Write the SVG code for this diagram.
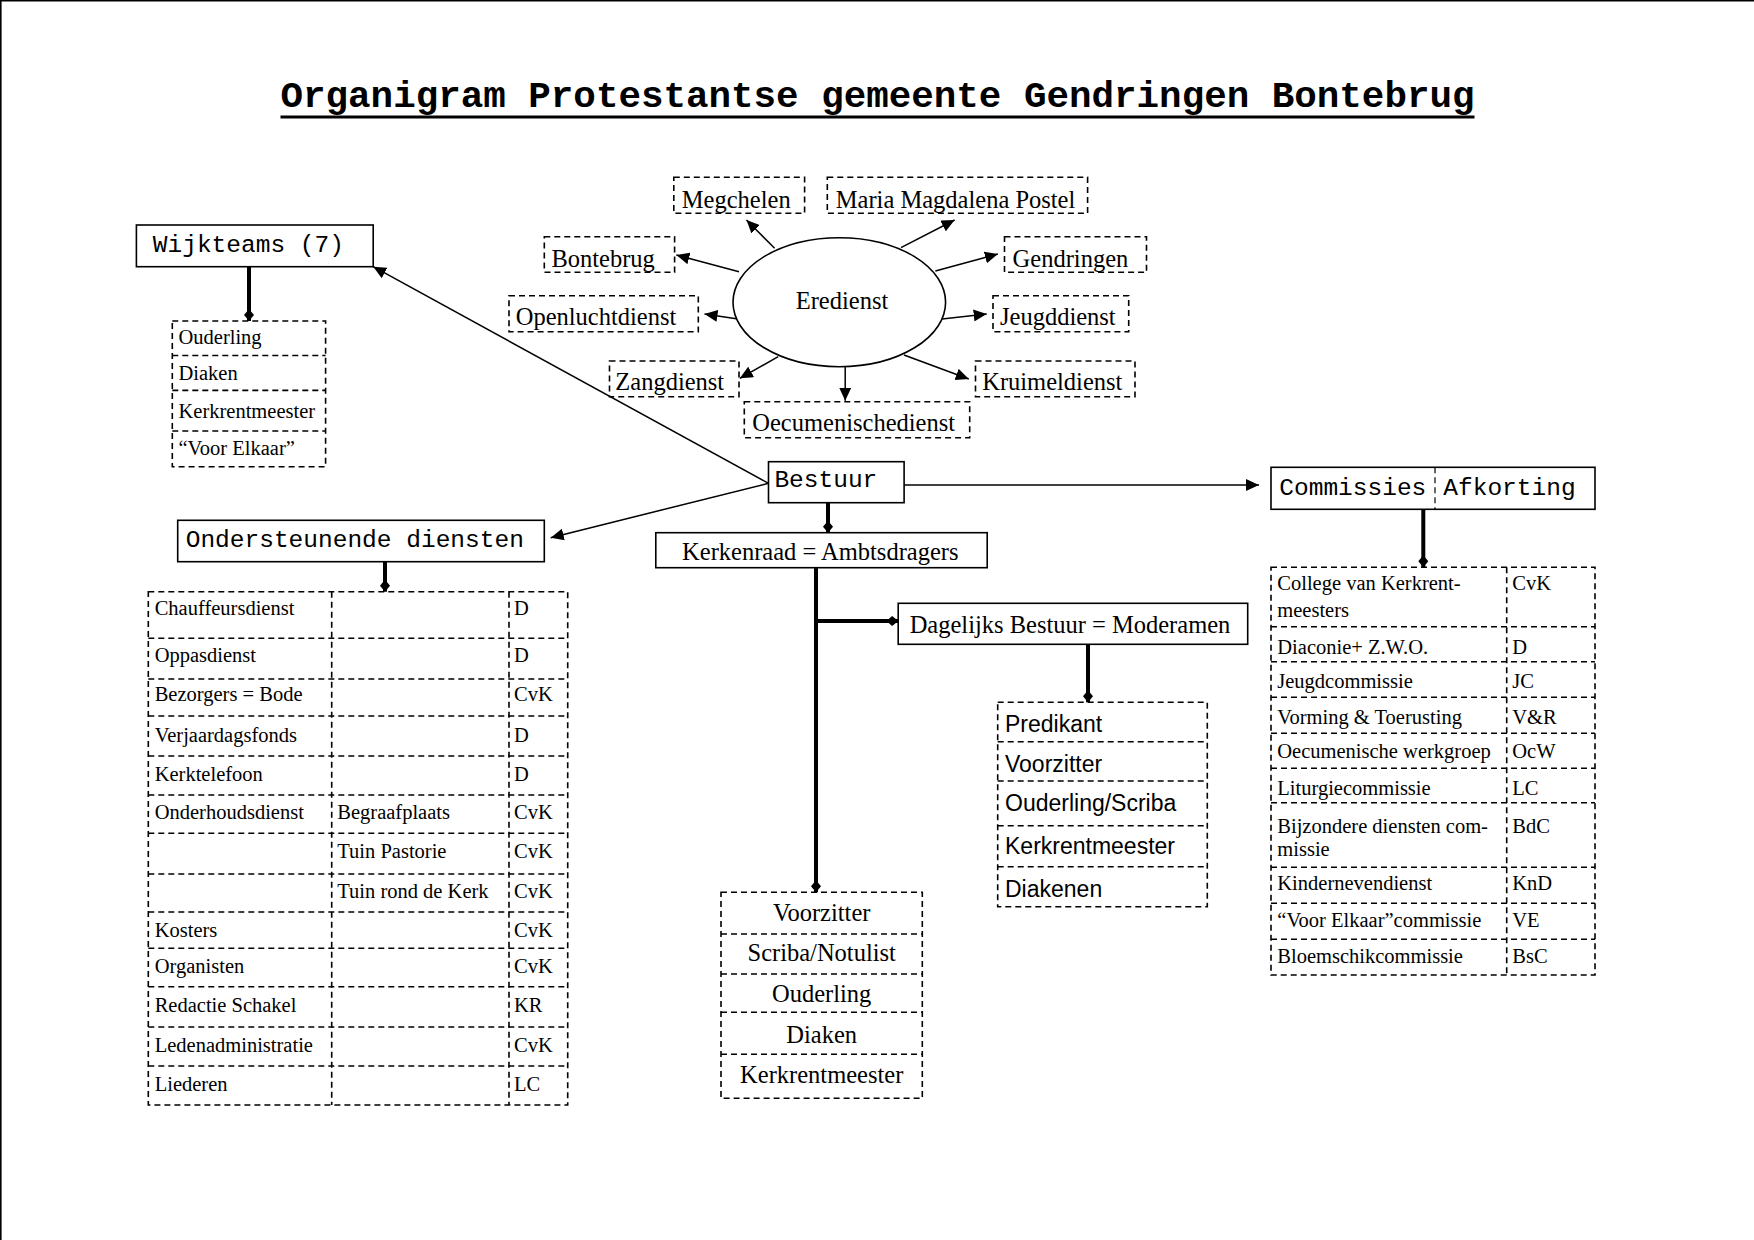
<svg xmlns="http://www.w3.org/2000/svg" width="1754" height="1240" viewBox="0 0 1754 1240">
<style>
.solid{fill:#fff;stroke:#000;stroke-width:1.6}
.dash{fill:none;stroke:#000;stroke-width:1.6;stroke-dasharray:6 4}
.thin{fill:none;stroke:#000;stroke-width:1.5}
.thick{fill:none;stroke:#000;stroke-width:4}
.mono{font-family:"Liberation Mono","Courier New",monospace;font-size:24.5px;fill:#000}
.serif{font-family:"Liberation Serif","Times New Roman",serif;fill:#000}
.big{font-size:24.5px}
.small{font-size:20.5px}
.sans{font-family:"Liberation Sans",Arial,sans-serif;font-size:23px;fill:#000}
.mid{text-anchor:middle}
</style>
<defs>
<marker id="arrow" markerUnits="userSpaceOnUse" markerWidth="14" markerHeight="12" refX="13" refY="6" orient="auto">
<path d="M0,0 L13,6 L0,12 z" fill="#000"/>
</marker>
<marker id="diamond" markerUnits="userSpaceOnUse" markerWidth="12" markerHeight="12" refX="12" refY="6" orient="auto">
<path d="M0,6 L6,1 L12,6 L6,11 z" fill="#000"/>
</marker>
</defs>
<rect x="0" y="0" width="1754" height="1240" fill="#fff"/>
<line x1="0" y1="0.8" x2="1754" y2="0.8" stroke="#000" stroke-width="1.6"/>
<line x1="0.8" y1="0" x2="0.8" y2="1240" stroke="#000" stroke-width="1.6"/>

<g id="title">
<text x="280.5" y="107" style="font-family:'Liberation Mono','Courier New',monospace;font-weight:bold;font-size:37.5px" textLength="1194" lengthAdjust="spacingAndGlyphs">Organigram Protestantse gemeente Gendringen Bontebrug</text>
<rect x="280.5" y="115.5" width="1194" height="3" fill="#000"/>
</g>

<g id="connectors">
<line class="thick" x1="249" y1="266.7" x2="249" y2="321" marker-end="url(#diamond)"/>
<line class="thick" x1="385" y1="561.7" x2="385" y2="591.7" marker-end="url(#diamond)"/>
<line class="thick" x1="828" y1="502.7" x2="828" y2="532.7" marker-end="url(#diamond)"/>
<line class="thick" x1="816" y1="567.7" x2="816" y2="892.3" marker-end="url(#diamond)"/>
<line class="thick" x1="816" y1="621" x2="898.2" y2="621" marker-end="url(#diamond)"/>
<line class="thick" x1="1088" y1="644.3" x2="1088" y2="702.3" marker-end="url(#diamond)"/>
<line class="thick" x1="1423.3" y1="509.3" x2="1423.3" y2="567.3" marker-end="url(#diamond)"/>
<line class="thin" x1="768.5" y1="483.3" x2="373.2" y2="266.7" marker-end="url(#arrow)"/>
<line class="thin" x1="768.5" y1="483.3" x2="550.7" y2="537.7" marker-end="url(#arrow)"/>
<line class="thin" x1="904.1" y1="485" x2="1259" y2="485" marker-end="url(#arrow)"/>
<line class="thin" x1="774.6" y1="248.3" x2="746.5" y2="220" marker-end="url(#arrow)"/>
<line class="thin" x1="901" y1="247.7" x2="954.6" y2="220" marker-end="url(#arrow)"/>
<line class="thin" x1="739" y1="271.7" x2="676.4" y2="255" marker-end="url(#arrow)"/>
<line class="thin" x1="935.4" y1="271" x2="997.9" y2="254" marker-end="url(#arrow)"/>
<line class="thin" x1="738" y1="319" x2="704.5" y2="314" marker-end="url(#arrow)"/>
<line class="thin" x1="939.8" y1="319.3" x2="986.7" y2="314" marker-end="url(#arrow)"/>
<line class="thin" x1="778.2" y1="356.7" x2="739.8" y2="378.3" marker-end="url(#arrow)"/>
<line class="thin" x1="904" y1="355" x2="968.8" y2="379" marker-end="url(#arrow)"/>
<line class="thin" x1="845.2" y1="366.7" x2="845.2" y2="400.7" marker-end="url(#arrow)"/>
</g>

<g id="wijkteams">
<rect class="solid" x="136.4" y="225" width="236.8" height="41.7"/>
<text class="mono" x="152.8" y="252">Wijkteams (7)</text>
</g>
<g id="wijkteams-list">
<rect class="dash" x="172.3" y="321" width="153.3" height="145.7"/>
<line class="dash" x1="172.3" y1="355.5" x2="325.6" y2="355.5"/>
<line class="dash" x1="172.3" y1="390.4" x2="325.6" y2="390.4"/>
<line class="dash" x1="172.3" y1="431" x2="325.6" y2="431"/>
<text class="serif small" x="178.5" y="343.5">Ouderling</text>
<text class="serif small" x="178.5" y="380">Diaken</text>
<text class="serif small" x="178.5" y="418.3">Kerkrentmeester</text>
<text class="serif small" x="178.5" y="455">“Voor Elkaar”</text>
</g>

<g id="eredienst">
<ellipse cx="839.3" cy="302.2" rx="106.3" ry="64.5" fill="#fff" stroke="#000" stroke-width="1.6"/>
<text class="serif big mid" x="842" y="309">Eredienst</text>
</g>
<g id="megchelen"><rect class="dash" x="673.8" y="177.3" width="130.8" height="36"/><text class="serif big" x="681.8" y="208.3">Megchelen</text></g>
<g id="maria"><rect class="dash" x="827.3" y="177.3" width="260.3" height="36"/><text class="serif big" x="835.8" y="208.3">Maria Magdalena Postel</text></g>
<g id="bontebrug"><rect class="dash" x="544.3" y="236.7" width="130.3" height="35.6"/><text class="serif big" x="551.4" y="266.7">Bontebrug</text></g>
<g id="gendringen"><rect class="dash" x="1004.5" y="236.7" width="142" height="35.6"/><text class="serif big" x="1012.6" y="266.7">Gendringen</text></g>
<g id="openlucht"><rect class="dash" x="509" y="295.7" width="189.3" height="36"/><text class="serif big" x="515.7" y="325">Openluchtdienst</text></g>
<g id="jeugddienst"><rect class="dash" x="993" y="295.7" width="135.7" height="36"/><text class="serif big" x="1000" y="325">Jeugddienst</text></g>
<g id="zangdienst"><rect class="dash" x="609.5" y="361" width="129.5" height="35.7"/><text class="serif big" x="615.3" y="390">Zangdienst</text></g>
<g id="kruimeldienst"><rect class="dash" x="975.5" y="361" width="159.5" height="35.7"/><text class="serif big" x="982.2" y="390">Kruimeldienst</text></g>
<g id="oecumenisch"><rect class="dash" x="744.3" y="401.7" width="225.4" height="36"/><text class="serif big" x="752.3" y="430.7">Oecumenischedienst</text></g>

<g id="bestuur">
<rect class="solid" x="768.5" y="461.7" width="135.6" height="41"/>
<text class="mono" x="774.4" y="486.7">Bestuur</text>
</g>

<g id="ondersteunende">
<rect class="solid" x="177.7" y="520.3" width="366.6" height="41.4"/>
<text class="mono" x="185.7" y="546.7">Ondersteunende diensten</text>
</g>
<g id="ondersteunende-table">
<rect class="dash" x="148.3" y="591.7" width="419.4" height="513.3"/>
<line class="dash" x1="331.7" y1="591.7" x2="331.7" y2="1105"/>
<line class="dash" x1="509" y1="591.7" x2="509" y2="1105"/>
<g class="dash">
<line x1="148.3" y1="638.3" x2="567.7" y2="638.3"/>
<line x1="148.3" y1="679" x2="567.7" y2="679"/>
<line x1="148.3" y1="716" x2="567.7" y2="716"/>
<line x1="148.3" y1="756" x2="567.7" y2="756"/>
<line x1="148.3" y1="795" x2="567.7" y2="795"/>
<line x1="148.3" y1="833.3" x2="567.7" y2="833.3"/>
<line x1="148.3" y1="874" x2="567.7" y2="874"/>
<line x1="148.3" y1="912" x2="567.7" y2="912"/>
<line x1="148.3" y1="948.3" x2="567.7" y2="948.3"/>
<line x1="148.3" y1="986.7" x2="567.7" y2="986.7"/>
<line x1="148.3" y1="1027" x2="567.7" y2="1027"/>
<line x1="148.3" y1="1066" x2="567.7" y2="1066"/>
</g>
<g class="serif small">
<text x="154.7" y="615">Chauffeursdienst</text><text x="514" y="615">D</text>
<text x="154.7" y="661.7">Oppasdienst</text><text x="514" y="661.7">D</text>
<text x="154.7" y="701">Bezorgers = Bode</text><text x="514" y="701">CvK</text>
<text x="154.7" y="741.7">Verjaardagsfonds</text><text x="514" y="741.7">D</text>
<text x="154.7" y="780.7">Kerktelefoon</text><text x="514" y="780.7">D</text>
<text x="154.7" y="819">Onderhoudsdienst</text><text x="337.3" y="819">Begraafplaats</text><text x="514" y="819">CvK</text>
<text x="337.3" y="858.3">Tuin Pastorie</text><text x="514" y="858.3">CvK</text>
<text x="337.3" y="898.3">Tuin rond de Kerk</text><text x="514" y="898.3">CvK</text>
<text x="154.7" y="937.3">Kosters</text><text x="514" y="937.3">CvK</text>
<text x="154.7" y="973.3">Organisten</text><text x="514" y="973.3">CvK</text>
<text x="154.7" y="1012.3">Redactie Schakel</text><text x="514" y="1012.3">KR</text>
<text x="154.7" y="1051.7">Ledenadministratie</text><text x="514" y="1051.7">CvK</text>
<text x="154.7" y="1091">Liederen</text><text x="514" y="1091">LC</text>
</g>
</g>

<g id="kerkenraad">
<rect class="solid" x="655.8" y="532.7" width="331.4" height="35"/>
<text class="serif big mid" x="820.3" y="560">Kerkenraad = Ambtsdragers</text>
</g>

<g id="dagelijks">
<rect class="solid" x="898.2" y="603.3" width="349.5" height="41"/>
<text class="serif big mid" x="1070" y="632.7">Dagelijks Bestuur = Moderamen</text>
</g>

<g id="moderamen-list">
<rect class="dash" x="997.7" y="702.3" width="209.6" height="204.4"/>
<line class="dash" x1="997.7" y1="741.7" x2="1207.3" y2="741.7"/>
<line class="dash" x1="997.7" y1="781" x2="1207.3" y2="781"/>
<line class="dash" x1="997.7" y1="825.7" x2="1207.3" y2="825.7"/>
<line class="dash" x1="997.7" y1="866.7" x2="1207.3" y2="866.7"/>
<text class="sans" x="1005" y="731.7">Predikant</text>
<text class="sans" x="1005" y="771.7">Voorzitter</text>
<text class="sans" x="1005" y="810.7">Ouderling/Scriba</text>
<text class="sans" x="1005" y="854">Kerkrentmeester</text>
<text class="sans" x="1005" y="896.7">Diakenen</text>
</g>

<g id="kerkenraad-list">
<rect class="dash" x="721" y="892.3" width="201.3" height="206"/>
<line class="dash" x1="721" y1="934" x2="922.3" y2="934"/>
<line class="dash" x1="721" y1="974" x2="922.3" y2="974"/>
<line class="dash" x1="721" y1="1012.3" x2="922.3" y2="1012.3"/>
<line class="dash" x1="721" y1="1054.3" x2="922.3" y2="1054.3"/>
<text class="serif big mid" x="821.7" y="920.7">Voorzitter</text>
<text class="serif big mid" x="821.7" y="961">Scriba/Notulist</text>
<text class="serif big mid" x="821.7" y="1001.7">Ouderling</text>
<text class="serif big mid" x="821.7" y="1042.7">Diaken</text>
<text class="serif big mid" x="821.7" y="1083.3">Kerkrentmeester</text>
</g>

<g id="commissies">
<rect class="solid" x="1271" y="467.3" width="324" height="42"/>
<line class="dash" x1="1435" y1="467.3" x2="1435" y2="509.3" style="stroke-width:1.2"/>
<text class="mono" x="1279.3" y="495">Commissies</text>
<text class="mono" x="1443.3" y="495">Afkorting</text>
</g>
<g id="commissies-table">
<rect class="dash" x="1271" y="567.3" width="324" height="407.7"/>
<line class="dash" x1="1506.7" y1="567.3" x2="1506.7" y2="975"/>
<g class="dash">
<line x1="1271" y1="626.7" x2="1595" y2="626.7"/>
<line x1="1271" y1="661.7" x2="1595" y2="661.7"/>
<line x1="1271" y1="697.3" x2="1595" y2="697.3"/>
<line x1="1271" y1="733.3" x2="1595" y2="733.3"/>
<line x1="1271" y1="768.3" x2="1595" y2="768.3"/>
<line x1="1271" y1="802.7" x2="1595" y2="802.7"/>
<line x1="1271" y1="867.3" x2="1595" y2="867.3"/>
<line x1="1271" y1="903.3" x2="1595" y2="903.3"/>
<line x1="1271" y1="939.3" x2="1595" y2="939.3"/>
</g>
<g class="serif small">
<text x="1277.3" y="590">College van Kerkrent-</text><text x="1277.3" y="616.7">meesters</text><text x="1512.3" y="590">CvK</text>
<text x="1277.3" y="654">Diaconie+ Z.W.O.</text><text x="1512.3" y="654">D</text>
<text x="1277.3" y="688.3">Jeugdcommissie</text><text x="1512.3" y="688.3">JC</text>
<text x="1277.3" y="724">Vorming &amp; Toerusting</text><text x="1512.3" y="724">V&amp;R</text>
<text x="1277.3" y="758.3">Oecumenische werkgroep</text><text x="1512.3" y="758.3">OcW</text>
<text x="1277.3" y="795">Liturgiecommissie</text><text x="1512.3" y="795">LC</text>
<text x="1277.3" y="833.3">Bijzondere diensten com-</text><text x="1277.3" y="856">missie</text><text x="1512.3" y="833.3">BdC</text>
<text x="1277.3" y="890">Kindernevendienst</text><text x="1512.3" y="890">KnD</text>
<text x="1277.3" y="926.7">“Voor Elkaar”commissie</text><text x="1512.3" y="926.7">VE</text>
<text x="1277.3" y="963.3">Bloemschikcommissie</text><text x="1512.3" y="963.3">BsC</text>
</g>
</g>
</svg>
